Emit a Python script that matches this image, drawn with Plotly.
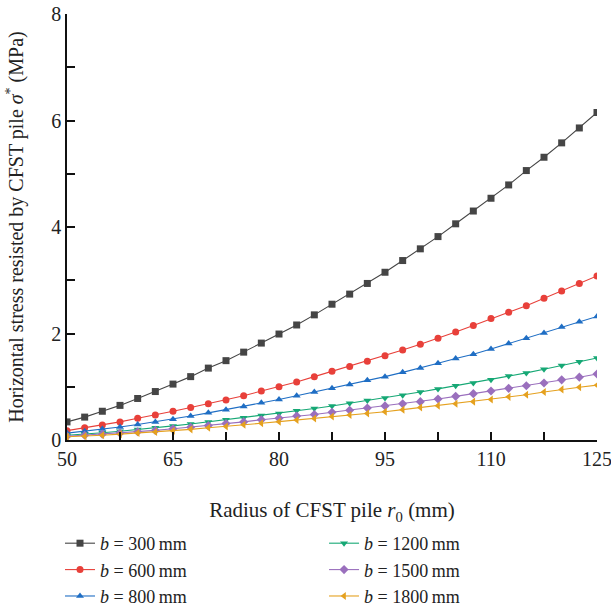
import plotly.graph_objects as go

radius = [50 + 2.5 * i for i in range(31)]

s300 = [0.34, 0.43, 0.54, 0.65, 0.78, 0.91, 1.05, 1.19, 1.35, 1.49, 1.65, 1.82, 1.99, 2.16, 2.35, 2.55,
        2.74, 2.94, 3.15, 3.37, 3.59, 3.82, 4.06, 4.30, 4.54, 4.79, 5.06, 5.31, 5.58, 5.86, 6.15]
s600 = [0.175, 0.23, 0.28, 0.34, 0.41, 0.47, 0.54, 0.61, 0.68, 0.75, 0.83, 0.92, 1.00, 1.09, 1.19, 1.29,
        1.38, 1.48, 1.58, 1.69, 1.80, 1.91, 2.03, 2.15, 2.28, 2.40, 2.52, 2.66, 2.80, 2.94, 3.08]
s800 = [0.13, 0.165, 0.205, 0.245, 0.29, 0.34, 0.39, 0.45, 0.51, 0.57, 0.63, 0.70, 0.76, 0.83, 0.90, 0.97,
        1.04, 1.12, 1.19, 1.27, 1.35, 1.44, 1.53, 1.61, 1.71, 1.81, 1.91, 2.01, 2.12, 2.22, 2.32]
s1200 = [0.09, 0.11, 0.135, 0.165, 0.195, 0.23, 0.265, 0.30, 0.34, 0.38, 0.42, 0.46, 0.50, 0.55, 0.59, 0.64,
         0.69, 0.74, 0.79, 0.84, 0.90, 0.96, 1.02, 1.07, 1.13, 1.20, 1.26, 1.33, 1.40, 1.47, 1.54]
s1500 = [0.07, 0.09, 0.11, 0.13, 0.155, 0.18, 0.21, 0.24, 0.27, 0.31, 0.34, 0.38, 0.41, 0.45, 0.48, 0.52,
         0.56, 0.60, 0.64, 0.68, 0.72, 0.77, 0.82, 0.87, 0.92, 0.97, 1.02, 1.07, 1.13, 1.18, 1.24]
s1800 = [0.06, 0.07, 0.09, 0.11, 0.13, 0.15, 0.175, 0.20, 0.23, 0.255, 0.285, 0.315, 0.345, 0.375, 0.405, 0.44,
         0.47, 0.50, 0.53, 0.57, 0.61, 0.645, 0.68, 0.72, 0.76, 0.81, 0.85, 0.90, 0.95, 0.99, 1.03]

labels = ["300", "600", "800", "1200", "1500", "1800"]
series = [s300, s600, s800, s1200, s1500, s1800]
colors = ["#454545", "#e8403a", "#1f6ec4", "#16a875", "#9a6fbd", "#e5a11f"]
symbols = ["square", "circle", "triangle-up", "triangle-down", "diamond", "triangle-left"]
legends = ["legend", "legend", "legend", "legend2", "legend2", "legend2"]

fig = go.Figure()
for lab, ys, c, sym, lg in zip(labels, series, colors, symbols, legends):
    fig.add_trace(go.Scatter(
        x=radius, y=ys, mode="lines+markers",
        name=f"<i>b</i> = {lab}\u2009mm",
        line=dict(color=c, width=1.1),
        marker=dict(symbol=sym, size=7, color=c),
        legend=lg,
    ))

font = "Liberation Serif"
tk = dict(ticks="inside", ticklen=8, tickwidth=1.5, tickcolor="#111")
fig.update_layout(
    width=611, height=607,
    margin=dict(l=67, r=14, t=14, b=167, autoexpand=False),
    paper_bgcolor="white", plot_bgcolor="white",
    font=dict(family=font, size=18, color="#222"),
    xaxis=dict(
        range=[50, 125], tickmode="linear", tick0=50, dtick=15, **tk,
        minor=dict(tick0=50, dtick=7.5, **tk),
        showline=True, linecolor="#111", linewidth=1.5, showgrid=False, zeroline=False,
        tickfont=dict(size=20), ticklabeloverflow="allow", tickangle=0,
        title=dict(text="Radius of CFST pile <i>r</i><sub>0</sub> (mm)", font=dict(size=21), standoff=34),
    ),
    yaxis=dict(
        range=[0, 8], tickmode="linear", tick0=0, dtick=2, **tk,
        minor=dict(tick0=0, dtick=1, **tk),
        showline=True, linecolor="#111", linewidth=1.5, showgrid=False, zeroline=False,
        tickfont=dict(size=20),
        title=dict(text="Horizontal stress resisted by CFST pile <i>σ</i><sup>*</sup> (MPa)",
                   font=dict(size=20), standoff=22),
    ),
    legend=dict(x=-0.0132, y=-0.1995,
                xanchor="left", yanchor="top", bgcolor="rgba(0,0,0,0)",
                font=dict(size=18), tracegroupgap=0),
    legend2=dict(x=0.485, y=-0.1995,
                 xanchor="left", yanchor="top", bgcolor="rgba(0,0,0,0)",
                 font=dict(size=18), tracegroupgap=0),
)

fig.write_html("out.html")
